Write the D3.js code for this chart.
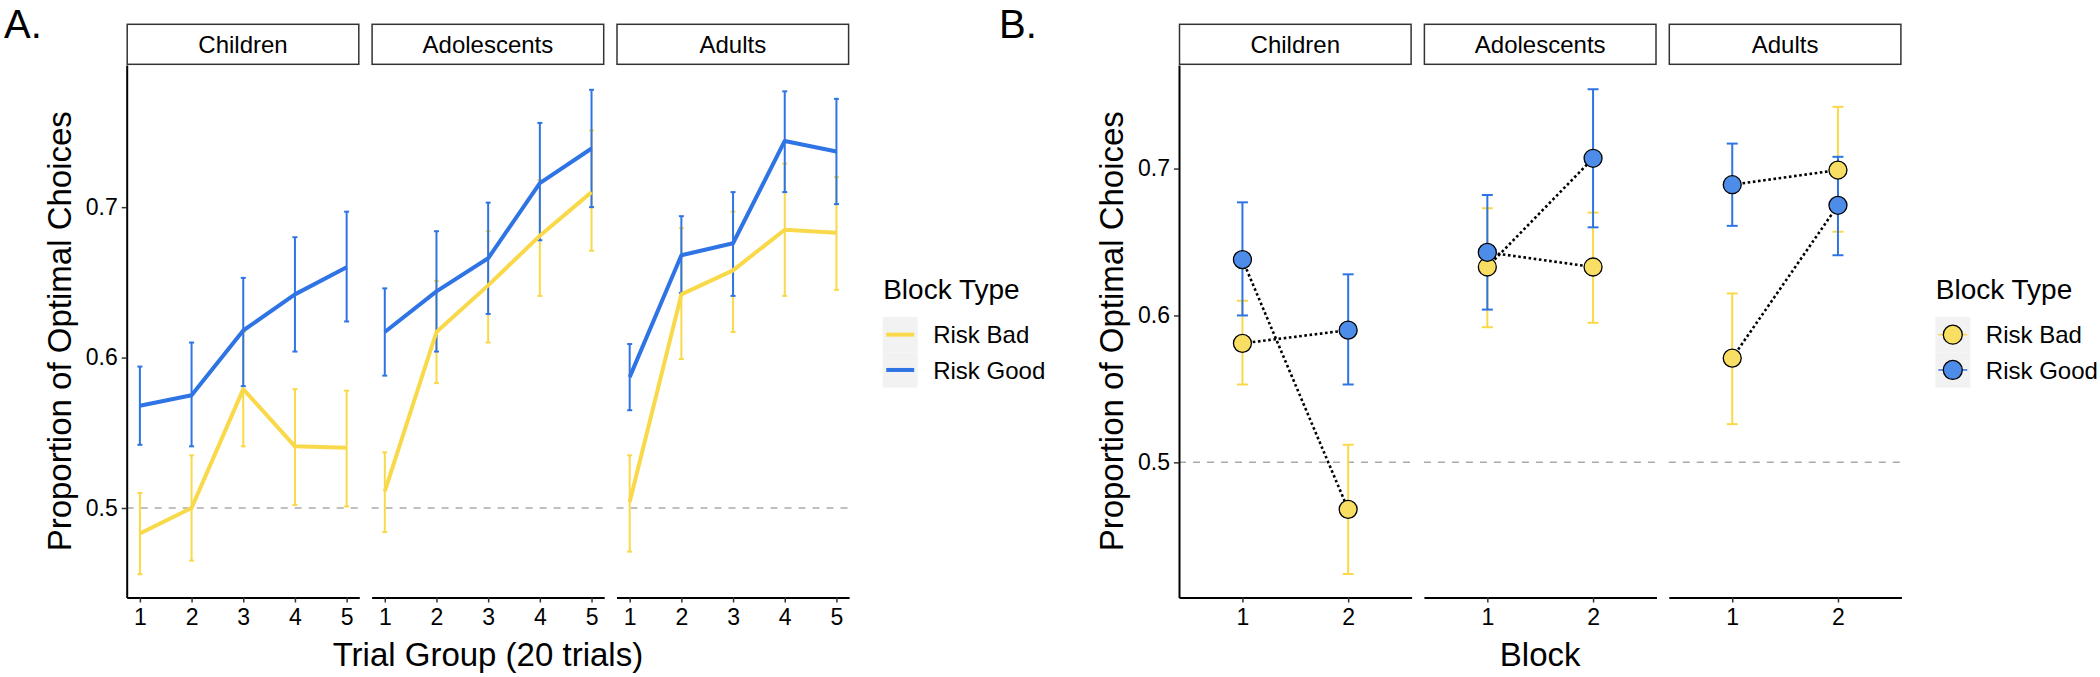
<!DOCTYPE html>
<html>
<head>
<meta charset="utf-8">
<script src="https://cdn.jsdelivr.net/npm/d3@7"></script>
<style>
  body { margin: 0; background: #fff; }
  svg text { font-family: "Liberation Sans", Arimo, Arial, Helvetica, sans-serif; fill: #000; }
</style>
</head>
<body>
<svg id="chart" width="2100" height="677"></svg>
<script>
// ---- data ----
const ageGroups = ["Children", "Adolescents", "Adults"];
const blockTypes = ["Risk Bad", "Risk Good"];
const trialGroups = [1, 2, 3, 4, 5];
const blocks = ["1", "2"];
const yTicks = [0.5, 0.6, 0.7];

// A. proportion optimal by trial group (rows: Children, Adolescents, Adults)
const trialBadMean = [
  [0.483, 0.500, 0.579, 0.541, 0.540],
  [0.511, 0.617, 0.648, 0.681, 0.710],
  [0.504, 0.642, 0.658, 0.685, 0.683]
];
const trialBadLo = [
  [0.456, 0.465, 0.541, 0.502, 0.501],
  [0.484, 0.583, 0.610, 0.641, 0.671],
  [0.471, 0.599, 0.617, 0.641, 0.645]
];
const trialBadHi = [
  [0.510, 0.535, 0.617, 0.579, 0.578],
  [0.537, 0.651, 0.684, 0.718, 0.751],
  [0.535, 0.686, 0.697, 0.729, 0.720]
];
const trialGoodMean = [
  [0.568, 0.575, 0.618, 0.642, 0.660],
  [0.617, 0.644, 0.666, 0.716, 0.739],
  [0.587, 0.668, 0.676, 0.744, 0.737]
];
const trialGoodLo = [
  [0.542, 0.541, 0.581, 0.604, 0.624],
  [0.588, 0.604, 0.629, 0.678, 0.700],
  [0.565, 0.643, 0.641, 0.710, 0.702]
];
const trialGoodHi = [
  [0.594, 0.610, 0.653, 0.680, 0.697],
  [0.646, 0.684, 0.703, 0.756, 0.778],
  [0.609, 0.694, 0.710, 0.777, 0.772]
];

// B. proportion optimal by block
const blockBadMean = [[0.581, 0.468], [0.633, 0.633], [0.571, 0.699]];
const blockBadLo   = [[0.553, 0.424], [0.592, 0.595], [0.526, 0.657]];
const blockBadHi   = [[0.610, 0.512], [0.673, 0.670], [0.615, 0.742]];
const blockGoodMean = [[0.638, 0.590], [0.643, 0.707], [0.689, 0.675]];
const blockGoodLo   = [[0.600, 0.553], [0.604, 0.660], [0.661, 0.641]];
const blockGoodHi   = [[0.677, 0.628], [0.682, 0.754], [0.717, 0.708]];
// block order: which block type came first (joined by the dotted lines)
const orderFirst = ["Risk Good", "Risk Bad"];

// ---- styling ----
const lineColor = { "Risk Bad": "#f9d94a", "Risk Good": "#2f74e4" };
const pointFill = { "Risk Bad": "#f8de62", "Risk Good": "#4d8de9" };

const panelW = 232.6, gap = 12.3;
const plotTop = 65, plotBottom = 597.5, stripTop = 24.3;
const leftA = 126.7, leftB = 1179;

const svg = d3.select("#chart");

const yA = d3.scaleLinear().domain([0.4405, 0.7945]).range([plotBottom, plotTop]);
const yB = d3.scaleLinear().domain([0.408, 0.7705]).range([plotBottom, plotTop]);
const xA = d3.scaleLinear().domain([0.745, 5.245]).range([0, panelW]);
const xB = d3.scalePoint().domain(blocks).range([0, panelW]).padding(0.6);

function facet(left, i, x, y, tickVals, tickFmt) {
  const g = svg.append("g").attr("transform", `translate(${left + i * (panelW + gap)},0)`);

  // strip
  g.append("rect")
    .attr("x", 0.5).attr("y", stripTop)
    .attr("width", panelW - 1).attr("height", plotTop - stripTop - 0.7)
    .attr("fill", "#fff").attr("stroke", "#333").attr("stroke-width", 1.5);
  g.append("text")
    .attr("x", panelW / 2).attr("y", 53.3)
    .attr("text-anchor", "middle").attr("font-size", 24)
    .text(ageGroups[i]);

  // 0.5 reference
  g.append("line")
    .attr("x1", 0).attr("x2", panelW)
    .attr("y1", y(0.5)).attr("y2", y(0.5))
    .attr("stroke", "#aaa").attr("stroke-width", 1.5)
    .attr("stroke-dasharray", "7,7");

  // x axis
  const ax = g.append("g").attr("transform", `translate(0,${plotBottom})`)
    .call(d3.axisBottom(x).tickValues(tickVals).tickFormat(tickFmt)
      .tickSize(5).tickSizeOuter(0).tickPadding(6));
  ax.select(".domain").attr("stroke", "#000").attr("stroke-width", 2);
  ax.selectAll(".tick line").attr("stroke", "#333").attr("stroke-width", 1.5);
  ax.selectAll(".tick text").attr("font-size", 23).attr("fill", "#000")
    .attr("dy", null).attr("y", 27.5);

  // y axis on first facet
  if (i === 0) {
    const ay = g.append("g")
      .call(d3.axisLeft(y).tickValues(yTicks).tickFormat(d3.format(".1f"))
        .tickSize(5).tickSizeOuter(0).tickPadding(4));
    ay.select(".domain").attr("stroke", "#000").attr("stroke-width", 2);
    ay.selectAll(".tick line").attr("stroke", "#333").attr("stroke-width", 1.5);
    ay.selectAll(".tick text").attr("font-size", 23).attr("fill", "#000");
  }
  return g;
}

function errorbars(g, xs, lo, hi, x, y, color, half, width) {
  const eb = g.append("g").attr("stroke", color).attr("stroke-width", width);
  xs.forEach((v, k) => {
    const cx = x(v);
    eb.append("line").attr("x1", cx).attr("x2", cx).attr("y1", y(lo[k])).attr("y2", y(hi[k]));
    eb.append("line").attr("x1", cx - half).attr("x2", cx + half).attr("y1", y(lo[k])).attr("y2", y(lo[k]));
    eb.append("line").attr("x1", cx - half).attr("x2", cx + half).attr("y1", y(hi[k])).attr("y2", y(hi[k]));
  });
}

// ---------- Panel A ----------
ageGroups.forEach((grp, i) => {
  const g = facet(leftA, i, xA, yA, trialGroups, d3.format("d"));
  const series = [
    { type: "Risk Bad", mean: trialBadMean[i], lo: trialBadLo[i], hi: trialBadHi[i] },
    { type: "Risk Good", mean: trialGoodMean[i], lo: trialGoodLo[i], hi: trialGoodHi[i] }
  ];
  series.forEach(s => errorbars(g, trialGroups, s.lo, s.hi, xA, yA, lineColor[s.type], 2.5, 2));
  const line = d3.line().x((d, k) => xA(trialGroups[k])).y(d => yA(d));
  series.forEach(s => {
    g.append("path").datum(s.mean)
      .attr("d", line).attr("fill", "none")
      .attr("stroke", lineColor[s.type]).attr("stroke-width", 4)
      .attr("stroke-linejoin", "round");
  });
});

// ---------- Panel B ----------
ageGroups.forEach((grp, i) => {
  const g = facet(leftB, i, xB, yB, blocks, d => d);
  const byType = {
    "Risk Bad": { mean: blockBadMean[i], lo: blockBadLo[i], hi: blockBadHi[i] },
    "Risk Good": { mean: blockGoodMean[i], lo: blockGoodLo[i], hi: blockGoodHi[i] }
  };
  blockTypes.forEach(t => errorbars(g, blocks, byType[t].lo, byType[t].hi, xB, yB, lineColor[t], 5.5, 2));

  // dotted lines joining block 1 -> block 2 within each order
  orderFirst.forEach(first => {
    const second = first === "Risk Good" ? "Risk Bad" : "Risk Good";
    g.append("line")
      .attr("x1", xB(blocks[0])).attr("y1", yB(byType[first].mean[0]))
      .attr("x2", xB(blocks[1])).attr("y2", yB(byType[second].mean[1]))
      .attr("stroke", "#000").attr("stroke-width", 2.6)
      .attr("stroke-dasharray", "2.6,2.6");
  });

  blockTypes.forEach(t => {
    g.selectAll(null).data(byType[t].mean).enter().append("circle")
      .attr("cx", (d, k) => xB(blocks[k])).attr("cy", d => yB(d))
      .attr("r", 9).attr("fill", pointFill[t])
      .attr("stroke", "#000").attr("stroke-width", 1.3);
  });
});

// ---------- axis titles, labels ----------
function rotTitle(x, txt) {
  svg.append("text")
    .attr("transform", `translate(${x},${(plotTop + plotBottom) / 2}) rotate(-90)`)
    .attr("text-anchor", "middle").attr("font-size", 33).text(txt);
}
rotTitle(70.5, "Proportion of Optimal Choices");
rotTitle(1123, "Proportion of Optimal Choices");

const widthAll = 3 * panelW + 2 * gap;
svg.append("text").attr("x", leftA + widthAll / 2).attr("y", 666)
  .attr("text-anchor", "middle").attr("font-size", 33).text("Trial Group (20 trials)");
svg.append("text").attr("x", leftB + widthAll / 2).attr("y", 666)
  .attr("text-anchor", "middle").attr("font-size", 33).text("Block");

svg.append("text").attr("x", 4).attr("y", 38).attr("font-size", 40).text("A.");
svg.append("text").attr("x", 999).attr("y", 38).attr("font-size", 40).text("B.");

// ---------- legends ----------
function legend(x0, withPoints) {
  const g = svg.append("g");
  g.append("text").attr("x", x0 + 0.5).attr("y", 299).attr("font-size", 28).text("Block Type");
  const keyH = 35.3, keyTop = 317;
  blockTypes.forEach((t, k) => {
    const yk = keyTop + k * keyH;
    g.append("rect").attr("x", x0).attr("y", yk)
      .attr("width", 35).attr("height", keyH).attr("fill", "#f2f2f2");
    const cy = yk + keyH / 2;
    if (withPoints) {
      g.append("line").attr("x1", x0 + 3).attr("x2", x0 + 32).attr("y1", cy).attr("y2", cy)
        .attr("stroke", lineColor[t]).attr("stroke-width", 1.5);
      g.append("circle").attr("cx", x0 + 17.5).attr("cy", cy).attr("r", 9.5)
        .attr("fill", pointFill[t]).attr("stroke", "#000").attr("stroke-width", 1.3);
    } else {
      g.append("line").attr("x1", x0 + 3.5).attr("x2", x0 + 31.5).attr("y1", cy).attr("y2", cy)
        .attr("stroke", lineColor[t]).attr("stroke-width", 4);
    }
    g.append("text").attr("x", x0 + 50.5).attr("y", cy + 8.6).attr("font-size", 24).text(t);
  });
}
legend(882.7, false);
legend(1935.3, true);
</script>
</body>
</html>
